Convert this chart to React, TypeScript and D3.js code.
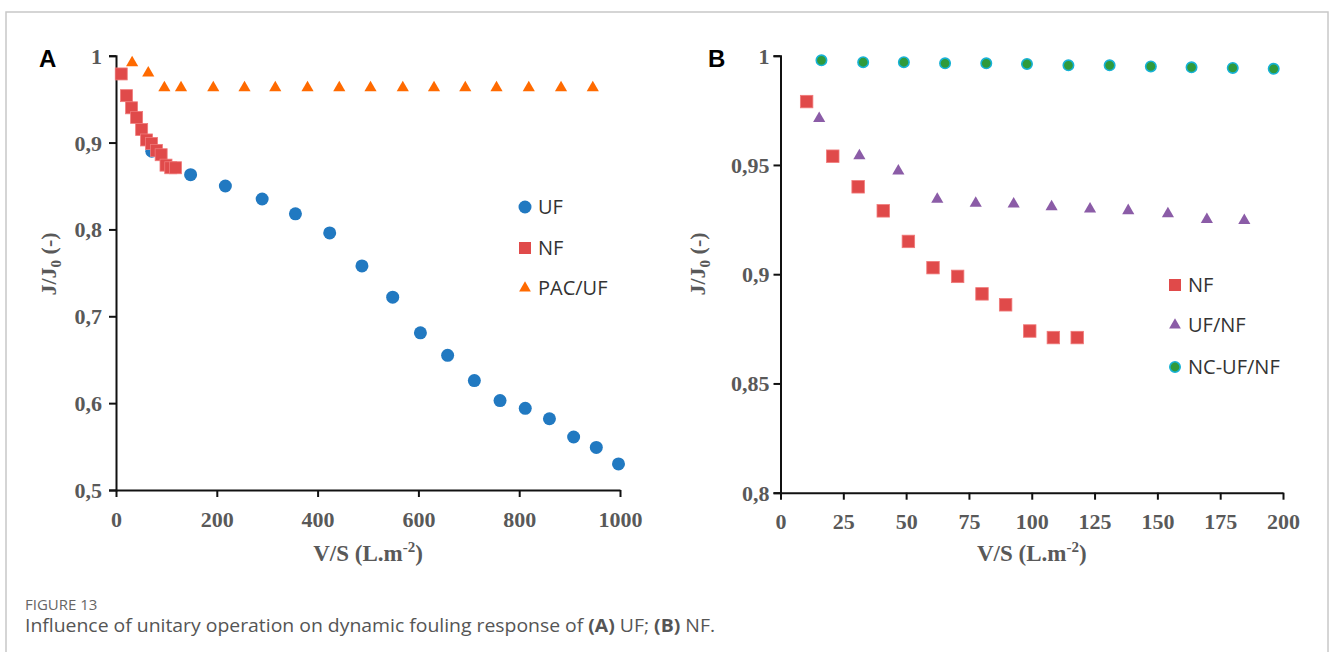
import { useEffect, useRef } from "react";
import * as d3 from "d3";

// panel A: UF / NF / PAC-UF
const ufX = [71, 148, 217, 290, 356, 424, 488, 549, 604, 658, 711, 762, 812, 860, 908, 953, 997];
const ufY = [0.89, 0.863, 0.85, 0.835, 0.818, 0.796, 0.758, 0.722, 0.681, 0.655, 0.626, 0.603, 0.594, 0.582, 0.561, 0.549, 0.53];
const nfX = [10.4, 20.8, 30.9, 40.9, 50.9, 60.7, 70.5, 80.2, 89.6, 99.2, 108.6, 118.1];
const nfY = [0.979, 0.954, 0.94, 0.929, 0.915, 0.903, 0.899, 0.891, 0.886, 0.874, 0.871, 0.871];
const pacX = [32, 64, 96, 129, 193, 255, 316, 380, 443, 505, 569, 631, 693, 755, 819, 883, 946];
const pacY = [0.992, 0.98, 0.963, 0.963, 0.963, 0.963, 0.963, 0.963, 0.963, 0.963, 0.963, 0.963, 0.963, 0.963, 0.963, 0.963, 0.963];

// panel B: NF / UF-NF / NC-UF-NF
const ufnfX = [15.4, 31.4, 46.9, 62.4, 77.7, 92.8, 107.9, 123.2, 138.4, 154.2, 169.7, 184.6];
const ufnfY = [0.9713, 0.9542, 0.9472, 0.9343, 0.9325, 0.9321, 0.9309, 0.9298, 0.9291, 0.9277, 0.925, 0.9246];
const ncX = [16.3, 32.9, 49.1, 65.5, 81.9, 98.1, 114.6, 131, 147.4, 163.6, 180, 196.3];
const ncY = [0.9979, 0.997, 0.997, 0.9965, 0.9965, 0.9962, 0.9956, 0.9956, 0.9951, 0.9947, 0.9944, 0.994];

const ticksAX = [0, 200, 400, 600, 800, 1000];
const ticksAY = [0.5, 0.6, 0.7, 0.8, 0.9, 1];
const ticksBX = [0, 25, 50, 75, 100, 125, 150, 175, 200];
const ticksBY = [0.8, 0.85, 0.9, 0.95, 1];

const BLUE = "#2179c1";
const RED = "#e04a4a";
const ORANGE = "#ff6a00";
const PURPLE = "#8b5ca7";
const GREEN = "#2f9a3b";
const CYAN = "#17b2d6";
const LABEL = "#595959";

const zip = (xs: number[], ys: number[]) => xs.map((x, i) => ({ x, y: ys[i] }));
const fmt = (d: number) => d3.format(".2~f")(d).replace(".", ",");

export default function App() {
  const svgRef = useRef<SVGSVGElement | null>(null);

  useEffect(() => {
    if (!svgRef.current) return;
    const svg = d3.select(svgRef.current);

    // frame
    svg.append("rect")
      .attr("x", 6).attr("y", 12).attr("width", 1322).attr("height", 700)
      .attr("fill", "none").attr("stroke", "#c8c8c8").attr("stroke-width", 1.5);

    const drawPanel = (opts: any) => {
      const { x, y, xTicks, yTicks, letter, letterX, yTitleX, yLabelPad } = opts;
      const g = svg.append("g");
      const [x0, x1] = x.range();
      const [y0] = y.range();

      // axes
      const ax = g.append("g")
        .attr("transform", `translate(0,${y0})`)
        .call(d3.axisBottom(x).tickValues(xTicks).tickSize(7).tickSizeOuter(0).tickFormat(fmt as any));
      const ay = g.append("g")
        .attr("transform", `translate(${x0},0)`)
        .call(d3.axisLeft(y).tickValues(yTicks).tickSize(7).tickSizeOuter(7).tickFormat(fmt as any));
      [ax, ay].forEach(a => {
        a.selectAll("path, line").attr("stroke", "#111").attr("stroke-width", 2);
        a.selectAll("text")
          .attr("fill", LABEL)
          .attr("font-family", "'Liberation Serif', 'Times New Roman', serif")
          .attr("font-weight", "bold")
          .attr("font-size", 22);
      });
      ax.selectAll("text").attr("y", 21).attr("dy", "0.71em");
      ay.selectAll("text").attr("x", -yLabelPad).attr("dy", "0.34em");

      // x title
      const xt = g.append("text")
        .attr("x", (x0 + x1) / 2).attr("y", 561)
        .attr("text-anchor", "middle")
        .attr("fill", LABEL)
        .attr("font-family", "'Liberation Serif', 'Times New Roman', serif")
        .attr("font-weight", "bold").attr("font-size", 23);
      xt.append("tspan").text("V/S (L.m");
      xt.append("tspan").attr("font-size", 15).attr("dy", -9).text("-2");
      xt.append("tspan").attr("dy", 9).text(")");

      // y title
      const yt = g.append("text")
        .attr("transform", `translate(${yTitleX},264) rotate(-90)`)
        .attr("text-anchor", "middle")
        .attr("fill", LABEL)
        .attr("font-family", "'Liberation Serif', 'Times New Roman', serif")
        .attr("font-weight", "bold").attr("font-size", 22);
      yt.append("tspan").text("J/J");
      yt.append("tspan").attr("font-size", 15).attr("dy", 5).text("0");
      yt.append("tspan").attr("dy", -5).text(" (-)");

      g.append("text")
        .attr("x", letterX).attr("y", 67)
        .attr("font-family", "'Liberation Sans', Arial, sans-serif")
        .attr("font-weight", "bold").attr("font-size", 24)
        .attr("fill", "#000")
        .text(letter);

      return g;
    };

    const circles = (g: any, data: any[], x: any, y: any, r: number, fill: string, stroke?: string) =>
      g.append("g").selectAll("circle").data(data).join("circle")
        .attr("cx", (d: any) => x(d.x)).attr("cy", (d: any) => y(d.y)).attr("r", r)
        .attr("fill", fill)
        .attr("stroke", stroke || "none").attr("stroke-width", stroke ? 1.6 : 0);

    const squares = (g: any, data: any[], x: any, y: any, s: number, fill: string) =>
      g.append("g").selectAll("rect").data(data).join("rect")
        .attr("x", (d: any) => x(d.x) - s / 2).attr("y", (d: any) => y(d.y) - s / 2)
        .attr("width", s).attr("height", s)
        .attr("fill", fill).attr("stroke", "#f07a7a").attr("stroke-width", 0.8);

    const triangles = (g: any, data: any[], x: any, y: any, size: number, fill: string) =>
      g.append("g").selectAll("path").data(data).join("path")
        .attr("d", d3.symbol().type(d3.symbolTriangle).size(size)())
        .attr("transform", (d: any) => `translate(${x(d.x)},${y(d.y)})`)
        .attr("fill", fill);

    const legend = (g: any, items: any[], lx: number, tx: number) => {
      items.forEach(it => {
        const lg = g.append("g");
        if (it.kind === "circle") {
          lg.append("circle").attr("cx", lx).attr("cy", it.cy).attr("r", it.r)
            .attr("fill", it.fill).attr("stroke", it.stroke || "none").attr("stroke-width", it.stroke ? 1.6 : 0);
        } else if (it.kind === "square") {
          lg.append("rect").attr("x", lx - 6).attr("y", it.cy - 6).attr("width", 12).attr("height", 12)
            .attr("fill", it.fill);
        } else {
          lg.append("path").attr("d", d3.symbol().type(d3.symbolTriangle).size(60)())
            .attr("transform", `translate(${lx},${it.cy})`).attr("fill", it.fill);
        }
        lg.append("text").attr("x", tx).attr("y", it.cy + 7)
          .attr("font-family", "'Open Sans', sans-serif").attr("font-size", 20)
          .attr("fill", "#333").text(it.label);
      });
    };

    // ---- Panel A
    const xA = d3.scaleLinear([0, 1000], [116, 620]);
    const yA = d3.scaleLinear([0.5, 1], [490, 55.7]);
    const gA = drawPanel({ x: xA, y: yA, xTicks: ticksAX, yTicks: ticksAY, letter: "A", letterX: 39, yTitleX: 56, yLabelPad: 14 });
    circles(gA, zip(ufX, ufY), xA, yA, 6.5, BLUE);
    squares(gA, zip(nfX, nfY), xA, yA, 12, RED);
    triangles(gA, zip(pacX, pacY), xA, yA, 64, ORANGE);
    legend(gA, [
      { kind: "circle", cy: 207, r: 6.5, fill: BLUE, label: "UF" },
      { kind: "square", cy: 248, fill: RED, label: "NF" },
      { kind: "triangle", cy: 288, fill: ORANGE, label: "PAC/UF" },
    ], 525, 538);

    // ---- Panel B
    const xB = d3.scaleLinear([0, 200], [780.5, 1283]);
    const yB = d3.scaleLinear([0.8, 1], [492.7, 55.7]);
    const gB = drawPanel({ x: xB, y: yB, xTicks: ticksBX, yTicks: ticksBY, letter: "B", letterX: 708, yTitleX: 705, yLabelPad: 11 });
    squares(gB, zip(nfX, nfY), xB, yB, 12.5, RED);
    triangles(gB, zip(ufnfX, ufnfY), xB, yB, 64, PURPLE);
    circles(gB, zip(ncX, ncY), xB, yB, 5.2, GREEN, CYAN);
    legend(gB, [
      { kind: "square", cy: 285, fill: RED, label: "NF" },
      { kind: "triangle", cy: 325, fill: PURPLE, label: "UF/NF" },
      { kind: "circle", cy: 367, r: 5.2, fill: GREEN, stroke: CYAN, label: "NC-UF/NF" },
    ], 1175, 1188);

    // caption
    svg.append("text")
      .attr("x", 25).attr("y", 610)
      .attr("font-family", "'Open Sans', sans-serif").attr("font-size", 15)
      .attr("fill", "#666").text("FIGURE 13");
    const cap = svg.append("text")
      .attr("x", 25).attr("y", 632)
      .attr("font-family", "'Open Sans', sans-serif").attr("font-size", 18)
      .attr("textLength", 690).attr("lengthAdjust", "spacingAndGlyphs")
      .attr("fill", "#555");
    cap.append("tspan").text("Influence of unitary operation on dynamic fouling response of ");
    cap.append("tspan").attr("font-weight", "bold").text("(A)");
    cap.append("tspan").text(" UF; ");
    cap.append("tspan").attr("font-weight", "bold").text("(B)");
    cap.append("tspan").text(" NF.");

    return () => {
      svg.selectAll("*").remove();
    };
  }, []);

  return (
    <svg
      ref={svgRef}
      width={1330}
      height={652}
      viewBox="0 0 1330 652"
      style={{ position: "absolute", left: 0, top: 0, display: "block", background: "#fff" }}
    />
  );
}
